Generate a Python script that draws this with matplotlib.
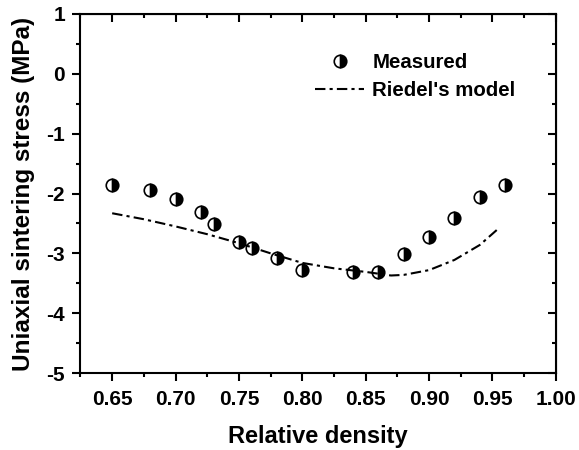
import matplotlib
matplotlib.use("Agg")
import matplotlib.pyplot as plt
from matplotlib.ticker import MultipleLocator

plt.rcParams['font.family'] = ['Liberation Sans', 'DejaVu Sans']
plt.rcParams['font.weight'] = 'bold'

meas_x = [0.65, 0.68, 0.70, 0.72, 0.73, 0.75, 0.76, 0.78, 0.80, 0.84, 0.86, 0.88, 0.90, 0.92, 0.94, 0.96]
meas_y = [-1.86, -1.94, -2.09, -2.31, -2.51, -2.81, -2.91, -3.08, -3.28, -3.31, -3.31, -3.01, -2.73, -2.41, -2.06, -1.86]

model_x = [0.65, 0.675, 0.70, 0.725, 0.75, 0.775, 0.80, 0.825, 0.85, 0.87, 0.88, 0.90, 0.92, 0.94, 0.955]
model_y = [-2.33, -2.43, -2.55, -2.68, -2.83, -3.00, -3.16, -3.25, -3.31, -3.37, -3.36, -3.28, -3.11, -2.86, -2.58]

fig = plt.figure(figsize=(5.79, 4.5), dpi=100)
ax = fig.add_axes([0.139, 0.171, 0.821, 0.798])

ax.plot(meas_x, meas_y, linestyle='none', marker='o', markersize=9,
        fillstyle='right', markerfacecolor='black', markerfacecoloralt='white',
        markeredgecolor='black', markeredgewidth=1.2, label='Measured')
ax.plot(model_x, model_y, color='black', linewidth=1.5,
        linestyle=(0, (5, 2, 1.5, 2)), label="Riedel's model")

ax.set_xlim(0.625, 1.0)
ax.set_ylim(-5, 1)
ax.set_xticks([0.65, 0.70, 0.75, 0.80, 0.85, 0.90, 0.95, 1.00])
ax.set_xticklabels(['0.65', '0.70', '0.75', '0.80', '0.85', '0.90', '0.95', '1.00'])
ax.set_yticks([-5, -4, -3, -2, -1, 0, 1])
ax.set_yticklabels(['-5', '-4', '-3', '-2', '-1', '0', '1'])
ax.xaxis.set_minor_locator(MultipleLocator(0.025))
ax.yaxis.set_minor_locator(MultipleLocator(0.5))

for s in ax.spines.values():
    s.set_linewidth(1.5)
ax.tick_params(which='both', direction='out', width=1.5, labelsize=15)
ax.tick_params(which='major', length=6)
ax.tick_params(which='minor', length=3)
ax.tick_params(axis='x', which='major', pad=6)
ax.tick_params(axis='y', which='major', pad=5)

ax2 = ax.secondary_xaxis('top')
ax2.set_xticks([0.65, 0.70, 0.75, 0.80, 0.85, 0.90, 0.95, 1.00])
ax2.xaxis.set_minor_locator(MultipleLocator(0.025))
ax2.tick_params(which='both', direction='in', width=1.5, labeltop=False)
ax2.tick_params(which='major', length=6)
ax2.tick_params(which='minor', length=3)
ax3 = ax.secondary_yaxis('right')
ax3.set_yticks([-5, -4, -3, -2, -1, 0, 1])
ax3.yaxis.set_minor_locator(MultipleLocator(0.5))
ax3.tick_params(which='both', direction='in', width=1.5, labelright=False)
ax3.tick_params(which='major', length=6)
ax3.tick_params(which='minor', length=3)

ax.set_xlabel('Relative density', fontsize=17, fontweight='bold', labelpad=12)
ax.set_ylabel('Uniaxial sintering stress (MPa)', fontsize=17.5, fontweight='bold', labelpad=8)

leg = ax.legend(loc='upper right', bbox_to_anchor=(0.915, 0.89), frameon=False,
                fontsize=14.7, handlelength=2.4, handletextpad=0.4, labelspacing=0.42,
                borderaxespad=0, borderpad=0)

fig.savefig('out.png', dpi=100)
